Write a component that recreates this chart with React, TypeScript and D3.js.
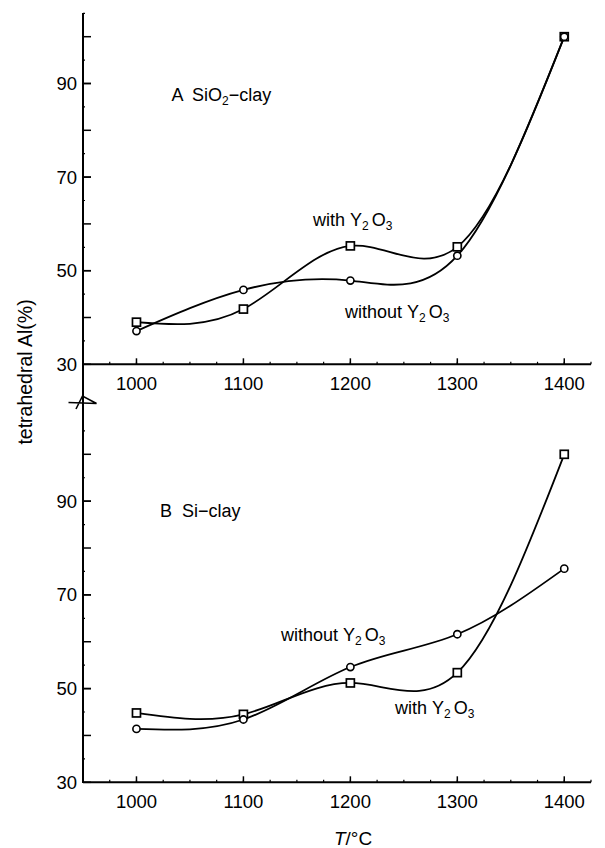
import React from 'react';
import { scaleLinear, line, curveNatural, range } from 'd3';

// temperatures (°C) and tetrahedral Al (%)
const temps = [1000, 1100, 1200, 1300, 1400];
const sio2With = [39.0, 41.8, 55.3, 55.1, 100];
const sio2Without = [37.1, 45.9, 47.9, 53.2, 100];
const siWith = [44.8, 44.5, 51.2, 53.4, 100];
const siWithout = [41.4, 43.4, 54.6, 61.6, 75.6];

const xTickLabels = [1000, 1100, 1200, 1300, 1400];
const yTickLabels = [30, 50, 70, 90];

const FONT = 'Liberation Sans, Arial, Helvetica, sans-serif';
const AXIS_X = 83;
const AXIS_RIGHT = 591;

const x = scaleLinear().domain([950, 1425]).range([AXIS_X, AXIS_RIGHT]);

const panels = [
  { key: 'A', y: scaleLinear().domain([30, 100]).range([364.3, 36.7]), withY: sio2With, withoutY: sio2Without },
  { key: 'B', y: scaleLinear().domain([30, 100]).range([782.3, 454.3]), withY: siWith, withoutY: siWithout },
];

function Y2O3({ x0, y0, prefix }: { x0: number; y0: number; prefix: string }) {
  return (
    <text x={x0} y={y0} fontSize={18} fontFamily={FONT}>
      {prefix}
      <tspan dx={5}>Y</tspan>
      <tspan dy={4} fontSize={12}>2</tspan>
      <tspan dy={-4} dx={3}>O</tspan>
      <tspan dy={4} fontSize={12}>3</tspan>
    </text>
  );
}

function Panel({ y, withY, withoutY }: any) {
  const gen = (vals: number[]) =>
    line<number>()
      .x((_, i) => x(temps[i]))
      .y((d) => y(d))
      .curve(curveNatural)(vals) as string;
  const y0 = y(30);
  return (
    <g>
      {/* x axis */}
      <line x1={AXIS_X} x2={AXIS_RIGHT} y1={y0} y2={y0} stroke="#000" strokeWidth={2} />
      {range(975, 1426, 25).map((t) => (
        <line key={'xm' + t} x1={x(t)} x2={x(t)} y1={y0} y2={y0 - 2.5} stroke="#000" strokeWidth={1.2} />
      ))}
      {xTickLabels.map((t) => (
        <g key={'xt' + t}>
          <line x1={x(t)} x2={x(t)} y1={y0} y2={y0 - 6} stroke="#000" strokeWidth={1.5} />
          <text x={x(t)} y={y0 + 26} textAnchor="middle" fontSize={18.5} fontFamily={FONT}>
            {t}
          </text>
        </g>
      ))}
      {/* y ticks */}
      {range(35, 106, 10).map((v) => (
        <line key={'ym' + v} x1={AXIS_X} x2={AXIS_X + 2} y1={y(v)} y2={y(v)} stroke="#000" strokeWidth={1.2} />
      ))}
      {range(40, 101, 10).map((v) => (
        <line key={'yt' + v} x1={AXIS_X} x2={AXIS_X + 8} y1={y(v)} y2={y(v)} stroke="#000" strokeWidth={1.5} />
      ))}
      {yTickLabels.map((v) => (
        <g key={'yl' + v}>
          <line x1={AXIS_X} x2={AXIS_X + 8} y1={y(v)} y2={y(v)} stroke="#000" strokeWidth={1.5} />
          <text x={77} y={y(v) + 6.5} textAnchor="end" fontSize={18.5} fontFamily={FONT}>
            {v}
          </text>
        </g>
      ))}
      {/* curves */}
      <path d={gen(withY)} fill="none" stroke="#000" strokeWidth={1.8} />
      <path d={gen(withoutY)} fill="none" stroke="#000" strokeWidth={1.8} />
      {withY.map((v: number, i: number) => (
        <rect key={'s' + i} x={x(temps[i]) - 4} y={y(v) - 4} width={8} height={8} fill="#fff" stroke="#000" strokeWidth={1.7} />
      ))}
      {withoutY.map((v: number, i: number) => (
        <circle key={'c' + i} cx={x(temps[i])} cy={y(v)} r={3.6} fill="#fff" stroke="#000" strokeWidth={1.6} />
      ))}
    </g>
  );
}

export default function App() {
  return (
    <svg width={605} height={848} style={{ position: 'absolute', left: 0, top: 0, background: '#fff' }}>
      <rect width={605} height={848} fill="#fff" />
      {/* continuous y axis with break */}
      <line x1={AXIS_X} x2={AXIS_X} y1={13} y2={783} stroke="#000" strokeWidth={2} />
      <path d="M68.5,402.5 L96.5,403.5 L82.5,396 L76,409" fill="none" stroke="#000" strokeWidth={1.6} />
      {panels.map((p) => (
        <Panel key={p.key} {...p} />
      ))}

      {/* panel A annotations */}
      <text x={171.5} y={100.5} fontSize={18} fontFamily={FONT}>A</text>
      <text x={192} y={100.5} fontSize={18} fontFamily={FONT}>
        SiO<tspan dy={4} fontSize={12}>2</tspan>
        <tspan dy={-4}>−clay</tspan>
      </text>
      <Y2O3 x0={313} y0={226} prefix="with" />
      <Y2O3 x0={345} y0={318} prefix="without" />

      {/* panel B annotations */}
      <text x={160} y={517} fontSize={18} fontFamily={FONT}>B</text>
      <text x={182} y={517} fontSize={18} fontFamily={FONT}>Si−clay</text>
      <Y2O3 x0={281} y0={641} prefix="without" />
      <Y2O3 x0={395} y0={714} prefix="with" />

      {/* axis titles */}
      <text transform="translate(32,372) rotate(-90)" textAnchor="middle" fontSize={19.5} fontFamily={FONT}>
        tetrahedral Al(%)
      </text>
      <text x={353} y={845} textAnchor="middle" fontSize={19} fontFamily={FONT}>
        <tspan fontStyle="italic">T</tspan>/°C
      </text>
    </svg>
  );
}
